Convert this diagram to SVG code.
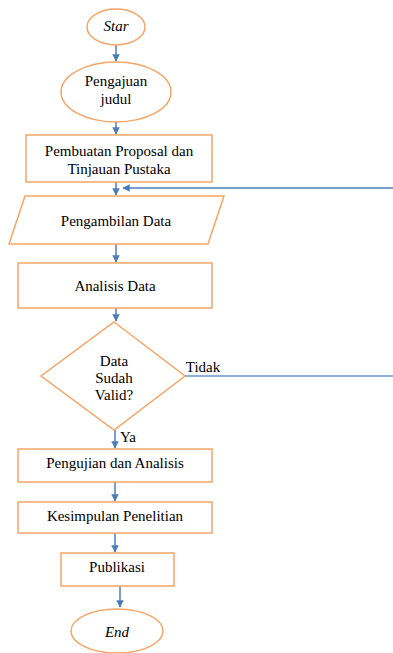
<svg xmlns="http://www.w3.org/2000/svg" width="393" height="653" viewBox="0 0 393 653">
<defs>
<marker id="ah" viewBox="0 0 10 10" refX="9" refY="5" markerWidth="5" markerHeight="5" orient="auto" markerUnits="strokeWidth">
<path d="M0,0 L10,5 L0,10 z" fill="#4a7ebb"/>
</marker>
<style>
.n{fill:#fff;stroke:#f6a566;stroke-width:1.5}
.t{font-family:"Liberation Serif","Times New Roman","DejaVu Serif",serif;font-size:15px;fill:#000;text-anchor:middle}
.i{font-style:italic}
.c{stroke:#4a7ebb;stroke-width:1.5;fill:none}
.c2{stroke:#8fb0dc;stroke-width:2;fill:none}
</style>
</defs>
<rect width="393" height="653" fill="#fff"/>
<g id="connectors">
<line class="c" x1="116" y1="45" x2="116" y2="61" marker-end="url(#ah)"/>
<line class="c" x1="116" y1="122" x2="116" y2="134" marker-end="url(#ah)"/>
<line class="c" x1="116" y1="182" x2="116" y2="195" marker-end="url(#ah)"/>
<line class="c" x1="393" y1="188" x2="123" y2="188" marker-end="url(#ah)"/>
<line class="c" x1="116" y1="244" x2="116" y2="262" marker-end="url(#ah)"/>
<line class="c" x1="116" y1="308" x2="116" y2="321" marker-end="url(#ah)"/>
<line class="c2" x1="185" y1="376" x2="393" y2="376"/>
<line class="c" x1="115" y1="430" x2="115" y2="448" marker-end="url(#ah)"/>
<line class="c" x1="115" y1="482" x2="115" y2="501" marker-end="url(#ah)"/>
<line class="c" x1="115" y1="533" x2="115" y2="552" marker-end="url(#ah)"/>
<line class="c" x1="120" y1="586" x2="120" y2="607" marker-end="url(#ah)"/>
<text class="t" x="203" y="372">Tidak</text>
<text class="t" x="128" y="442">Ya</text>
</g>
<g id="start">
<ellipse class="n" cx="116" cy="27" rx="29" ry="18"/>
<text class="t i" x="116" y="31">Star</text>
</g>
<g id="pengajuan">
<ellipse class="n" cx="116" cy="92" rx="55" ry="30"/>
<text class="t" x="116" y="86">Pengajuan</text>
<text class="t" x="116" y="104">judul</text>
</g>
<g id="pembuatan">
<rect class="n" x="26" y="135" width="186" height="47"/>
<text class="t" x="119" y="156">Pembuatan Proposal dan</text>
<text class="t" x="119" y="174">Tinjauan Pustaka</text>
</g>
<g id="pengambilan">
<polygon class="n" points="25,196 224,196 208,244 9,244"/>
<text class="t" x="116" y="226">Pengambilan Data</text>
</g>
<g id="analisis">
<rect class="n" x="18" y="263" width="194" height="45"/>
<text class="t" x="115" y="291">Analisis Data</text>
</g>
<g id="decision">
<polygon class="n" points="114,322 185,376 114,430 41,376"/>
<text class="t" x="114" y="366">Data</text>
<text class="t" x="114" y="383">Sudah</text>
<text class="t" x="114" y="400">Valid?</text>
</g>
<g id="pengujian">
<rect class="n" x="18" y="449" width="194" height="33"/>
<text class="t" x="115" y="468">Pengujian dan Analisis</text>
</g>
<g id="kesimpulan">
<rect class="n" x="18" y="502" width="194" height="31"/>
<text class="t" x="115" y="521">Kesimpulan Penelitian</text>
</g>
<g id="publikasi">
<rect class="n" x="61" y="553" width="113" height="33"/>
<text class="t" x="117" y="572">Publikasi</text>
</g>
<g id="end">
<ellipse class="n" cx="117" cy="631" rx="46" ry="22"/>
<text class="t i" x="117" y="637">End</text>
</g>
</svg>
